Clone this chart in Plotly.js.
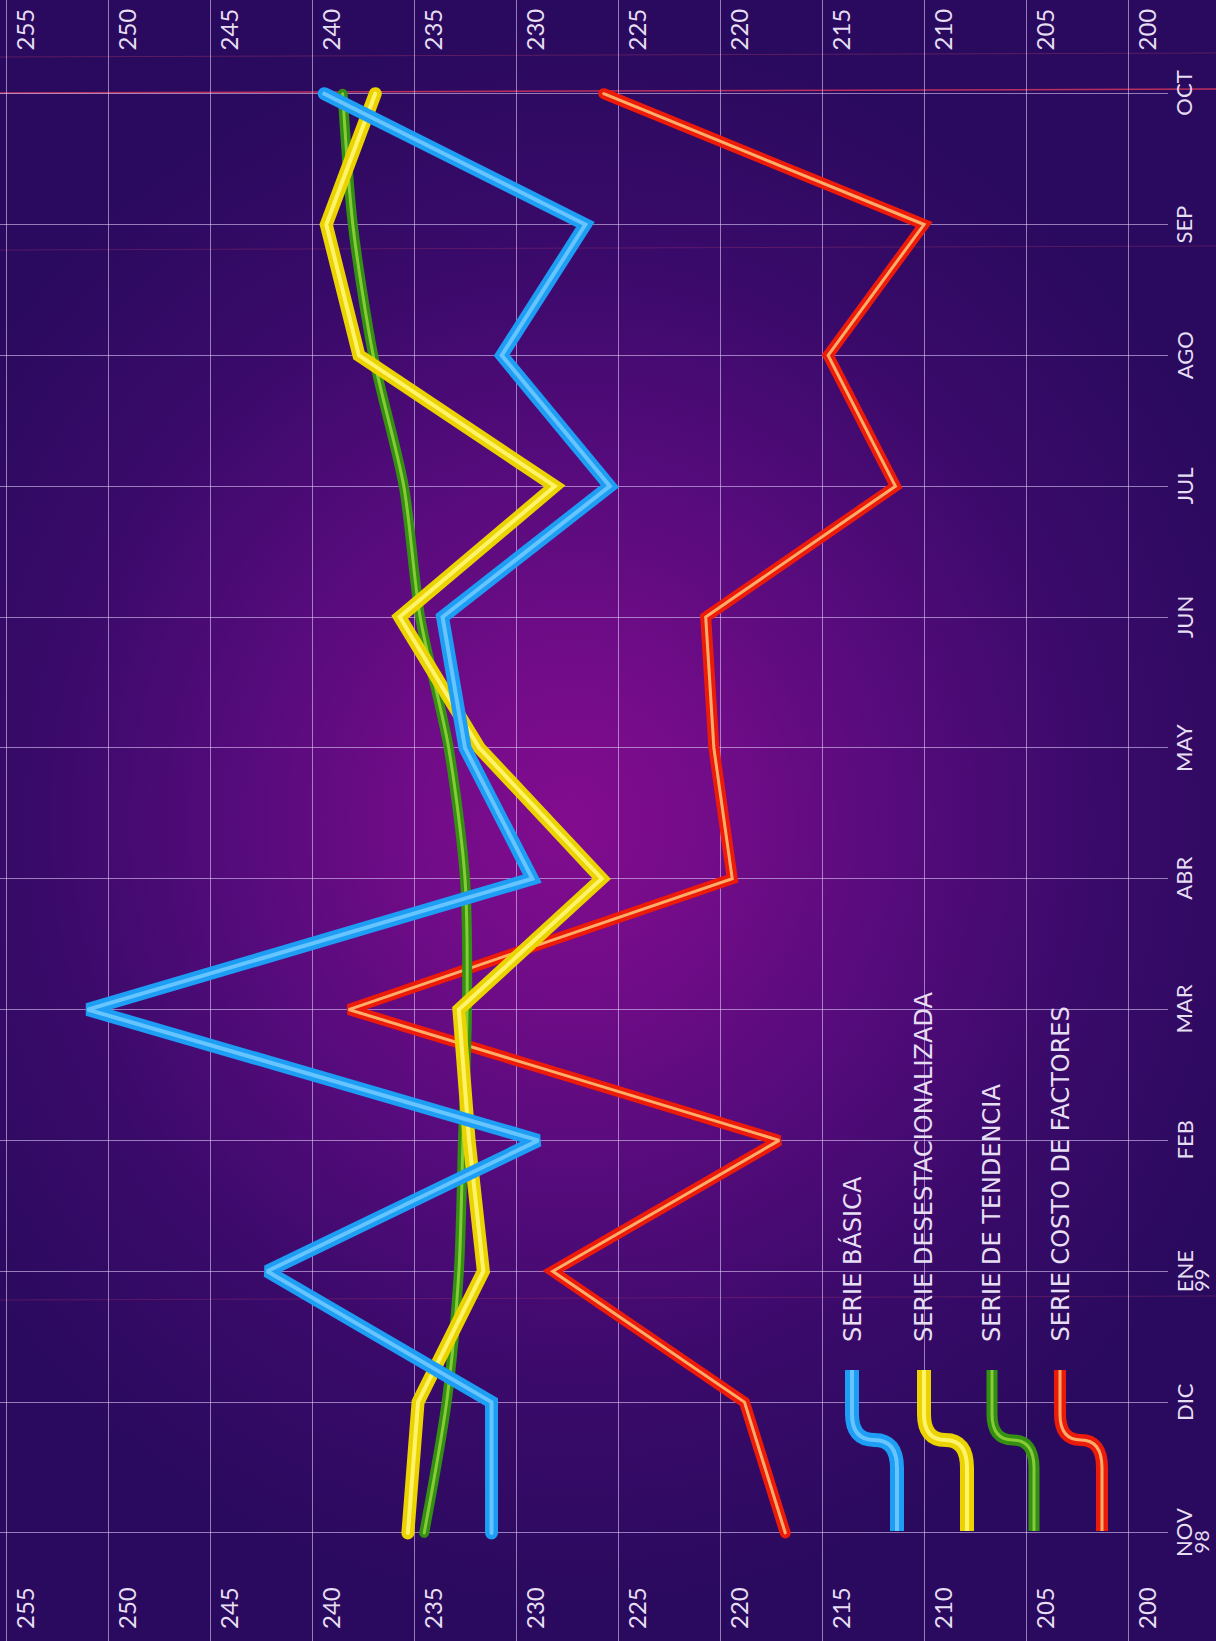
<!DOCTYPE html>
<html>
<head>
<meta charset="utf-8">
<script src="https://cdn.plot.ly/plotly-3.0.1.min.js"></script>
<style>
  html, body { margin:0; padding:0; width:1216px; height:1641px; overflow:hidden; }
  body {
    background: radial-gradient(ellipse 60% 48% at 47% 50%, #820c8e 0%, #720c88 20%, #560b7c 45%, #3a0a6a 72%, #2a0a5e 100%);
  }
  #chart { width:1216px; height:1641px; }
  .js-line { stroke-linecap: round; }
</style>
</head>
<body>
<div id="chart"></div>
<script>
// ---- data ----
const months = ['NOV','DIC','ENE','FEB','MAR','ABR','MAY','JUN','JUL','AGO','SEP','OCT'];
const years  = ['98','','99','','','','','','','','',''];
const serieBasica          = [231.2, 231.2, 242.2, 228.9, 251.0, 229.2, 232.5, 233.6, 225.4, 230.7, 226.6, 239.4];
const serieDesestacional   = [235.3, 234.8, 231.6, 232.3, 232.8, 225.8, 231.8, 235.7, 228.1, 237.7, 239.3, 236.9];
const serieTendencia       = [234.5, 233.4, 232.8, 232.6, 232.4, 232.5, 233.3, 234.7, 235.5, 237.0, 238.0, 238.5];
const serieCostoFactores   = [216.8, 218.8, 228.2, 217.1, 238.2, 219.4, 220.3, 220.7, 211.4, 214.7, 210.0, 225.7];
const valueTicks = [200,205,210,215,220,225,230,235,240,245,250,255];
const legendNames = ['SERIE BÁSICA','SERIE DESESTACIONALIZADA','SERIE DE TENDENCIA','SERIE COSTO DE FACTORES'];

// ---- styling ----
const W = 1216, H = 1641, PW = 1168;
const monthIdx = months.map((_, i) => i);
const gridColor = 'rgba(220,200,245,0.6)';
const textColor = '#e6def2';
const fontFam = 'Lato, "Open Sans", sans-serif';
const legFont = '"DejaVu Sans", Lato, sans-serif';

const styles = {
  basica:  {outer:'#1d9df3', inner:'#66c4ff', wo:13, wi:4},
  desest:  {outer:'#ebd300', inner:'#fff36a', wo:13, wi:4},
  tend:    {outer:'#358f12', inner:'#86cc36', wo:10, wi:3},
  costo:   {outer:'#ec1a08', inner:'#ffae6a', wo:11, wi:3}
};

function pair(vals, st, shape) {
  const base = {y: monthIdx, x: vals, mode:'lines', hoverinfo:'skip', showlegend:false};
  return [
    Object.assign({}, base, {line:{color:st.outer, width:st.wo, shape:shape||'linear', smoothing:0.8}}),
    Object.assign({}, base, {line:{color:st.inner, width:st.wi, shape:shape||'linear', smoothing:0.8}})
  ];
}

const traces = [].concat(
  pair(serieCostoFactores, styles.costo),
  pair(serieTendencia, styles.tend, 'spline'),
  pair(serieDesestacional, styles.desest),
  pair(serieBasica, styles.basica)
);

// ---- annotations ----
const annotations = [];
valueTicks.forEach(v => {
  [29.5, 1608].forEach(py => {
    annotations.push({x:v, xref:'x', y:1 - py/H, yref:'paper', text:String(v),
      textangle:-90, showarrow:false, xshift:18, xanchor:'center', yanchor:'middle',
      font:{family:fontFam, size:24, color:textColor}});
  });
});
months.forEach((m, i) => {
  annotations.push({x:1184/PW, xref:'paper', y:i, yref:'y', text:m, textangle:-90,
    showarrow:false, xanchor:'center', yanchor:'middle',
    font:{family:fontFam, size:22, color:textColor}});
  if (years[i]) {
    annotations.push({x:1201/PW, xref:'paper', y:i, yref:'y', text:years[i], textangle:-90,
      showarrow:false, xanchor:'center', yanchor:'bottom', yshift:-22, borderpad:0,
      font:{family:fontFam, size:20, color:textColor}});
  }
});

// legend keys (S-curves) and texts
const legX = [[852,897],[924,967],[992,1034],[1060,1102]];
const legSt = [styles.basica, styles.desest, styles.tend, styles.costo];
const shapes = [];
const px = x => x / PW, py = y => 1 - y / H;
legX.forEach((xx, k) => {
  const x1 = xx[0], x2 = xx[1], xm = (x1 + x2) / 2;
  const y0 = 1370, ya = 1414, ym = 1440, yb = 1468, y1 = 1531;
  const path = `M ${px(x1)},${py(y0)} L ${px(x1)},${py(ya)} Q ${px(x1)},${py(ym)} ${px(xm)},${py(ym)} Q ${px(x2)},${py(ym)} ${px(x2)},${py(yb)} L ${px(x2)},${py(y1)}`;
  const st = legSt[k];
  shapes.push({type:'path', xref:'paper', yref:'paper', path, line:{color:st.outer, width:st.wo + 1}});
  shapes.push({type:'path', xref:'paper', yref:'paper', path, line:{color:st.inner, width:st.wi}});
  annotations.push({x:px(x1), xref:'paper', y:py(1344), yref:'paper', text:legendNames[k],
    textangle:-90, showarrow:false, xanchor:'center', yanchor:'bottom',
    font:{family:legFont, size:24, color:textColor}});
});

// faint print-registration lines
[[93, 'rgba(235,60,95,0.75)', 1.5], [57, 'rgba(210,70,110,0.3)', 1], [250, 'rgba(210,70,110,0.25)', 1], [1300, 'rgba(210,70,110,0.25)', 1]].forEach(r => {
  shapes.push({type:'line', xref:'paper', yref:'paper', x0:0, x1:W/PW, y0:py(r[0]), y1:py(r[0]-4),
    line:{color:r[1], width:r[2]}, layer:'below'});
});

const layout = {
  width:W, height:H,
  margin:{l:0, r:W-PW, t:0, b:0, pad:0},
  paper_bgcolor:'rgba(0,0,0,0)', plot_bgcolor:'rgba(0,0,0,0)',
  showlegend:false,
  xaxis:{range:[255 + 6/20.4, 200 - 40/20.4], tickvals:valueTicks, showticklabels:false,
    showgrid:true, gridcolor:gridColor, gridwidth:1, zeroline:false, showline:false, ticks:''},
  yaxis:{range:[-0.826, 11.716], tickvals:monthIdx, showticklabels:false,
    showgrid:true, gridcolor:gridColor, gridwidth:1, zeroline:false, showline:false, ticks:''},
  annotations, shapes
};

Plotly.newPlot('chart', traces, layout, {displayModeBar:false, staticPlot:true});
</script>
</body>
</html>
